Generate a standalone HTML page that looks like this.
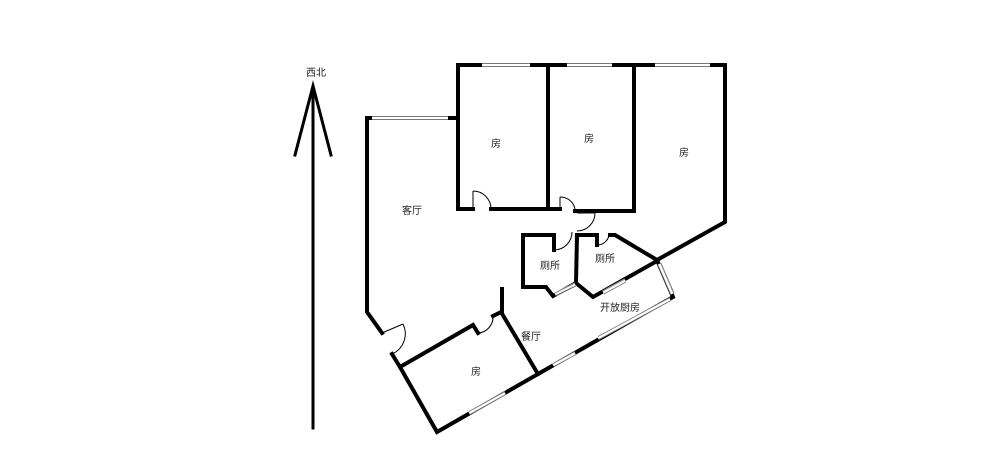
<!DOCTYPE html>
<html><head><meta charset="utf-8"><style>
html,body{margin:0;padding:0;background:#fff;width:1000px;height:465px;overflow:hidden}
text{font-family:"Liberation Sans","Noto Sans CJK SC",sans-serif;font-size:10px;fill:#222}
</style></head><body>
<svg width="1000" height="465" viewBox="0 0 1000 465" xmlns="http://www.w3.org/2000/svg">
<g stroke="#000" stroke-width="4" fill="none" stroke-linejoin="miter" stroke-linecap="square">
<!-- arrow -->
<line x1="313" y1="428" x2="313" y2="90" stroke-width="3"/>
<polyline points="295,155 313,86 331,155" stroke-width="3"/>
<!-- living + outer -->
<polyline points="458,118 367,118 367,312 382,333"/>
<polyline points="392,354 400,367 437,432 538,374 673,297 657,260 725,222 725,65 458,65 458,209 473,209"/>
<polyline points="491,209 560,209"/>
<line x1="548" y1="65" x2="548" y2="209"/>
<line x1="634" y1="65" x2="634" y2="211"/>
<polyline points="575,211 634,211"/>
<!-- bathrooms -->
<polyline points="554,250 554,235 523,235 523,287 546,287 553,296 576,283 577,235 597,235 597,245"/>
<polyline points="610,235 615,235 657,260"/>
<polyline points="576,283 593,297 657,261"/>
<!-- small room + dining -->
<polyline points="400,367 473,325 478,333"/>
<polyline points="493,316 501,312 538,374"/>
<line x1="502" y1="289" x2="502" y2="312"/>
</g>
<!-- windows -->
<g stroke="#fff" stroke-width="3" fill="none">
<line x1="372" y1="118" x2="448" y2="118"/>
<line x1="482" y1="65" x2="530" y2="65"/>
<line x1="567" y1="65" x2="612" y2="65"/>
<line x1="655" y1="65" x2="710" y2="65"/>
<line x1="555" y1="294" x2="575" y2="284"/>
<line x1="603" y1="292" x2="625" y2="280"/>
<line x1="659" y1="264" x2="672" y2="294"/>
<line x1="598" y1="338" x2="670" y2="299"/>
<line x1="553" y1="365" x2="575" y2="353"/>
<line x1="469" y1="413" x2="505" y2="393"/>
</g>
<g stroke="#777" stroke-width="0.8" fill="none">
<line x1="372" y1="116.5" x2="448" y2="116.5"/><line x1="372" y1="119.5" x2="448" y2="119.5"/>
<line x1="482" y1="63.5" x2="530" y2="63.5"/><line x1="482" y1="66.5" x2="530" y2="66.5"/>
<line x1="567" y1="63.5" x2="612" y2="63.5"/><line x1="567" y1="66.5" x2="612" y2="66.5"/>
<line x1="655" y1="63.5" x2="710" y2="63.5"/><line x1="655" y1="66.5" x2="710" y2="66.5"/>
<line x1="555" y1="293" x2="575" y2="283"/><line x1="556" y1="296" x2="576" y2="286"/>
<line x1="603" y1="291" x2="625" y2="279"/><line x1="604" y1="294" x2="626" y2="282"/>
<line x1="658" y1="265" x2="671" y2="295"/><line x1="661" y1="263" x2="674" y2="293"/>
<line x1="598" y1="336.5" x2="670" y2="297.5"/><line x1="599" y1="339.5" x2="671" y2="300.5"/>
<line x1="553" y1="363.5" x2="575" y2="351.5"/><line x1="554" y1="366.5" x2="576" y2="354.5"/>
<line x1="469" y1="411.5" x2="505" y2="391.5"/><line x1="470" y1="414.5" x2="506" y2="394.5"/>
</g>
<!-- doors -->
<g stroke="#000" stroke-width="1" fill="none">
<line x1="382" y1="333" x2="403" y2="324"/><path d="M403,324 A22,22 0 0 1 392,354"/>
<line x1="473" y1="209" x2="473" y2="191"/><path d="M473,191 A18,18 0 0 1 491,209"/>
<line x1="560" y1="209" x2="560" y2="197"/><path d="M560,197 A15,15 0 0 1 575,209"/>
<line x1="577" y1="213" x2="595" y2="213"/><path d="M595,213 A18,18 0 0 1 577,231"/>
<path d="M554,250 A18,18 0 0 0 572,232"/>
<path d="M597,245 A12,12 0 0 0 609,235"/>
<path d="M478,333 A16,16 0 0 0 493,316"/>
</g>
<text x="306" y="76">西北</text>
<text x="491" y="147">房</text>
<text x="584" y="142">房</text>
<text x="679" y="156">房</text>
<text x="471" y="375">房</text>
<text x="402" y="214">客厅</text>
<text x="540" y="269">厕所</text>
<text x="595" y="262">厕所</text>
<text x="600" y="311">开放厨房</text>
<text x="521" y="340">餐厅</text>
</svg>
</body></html>
